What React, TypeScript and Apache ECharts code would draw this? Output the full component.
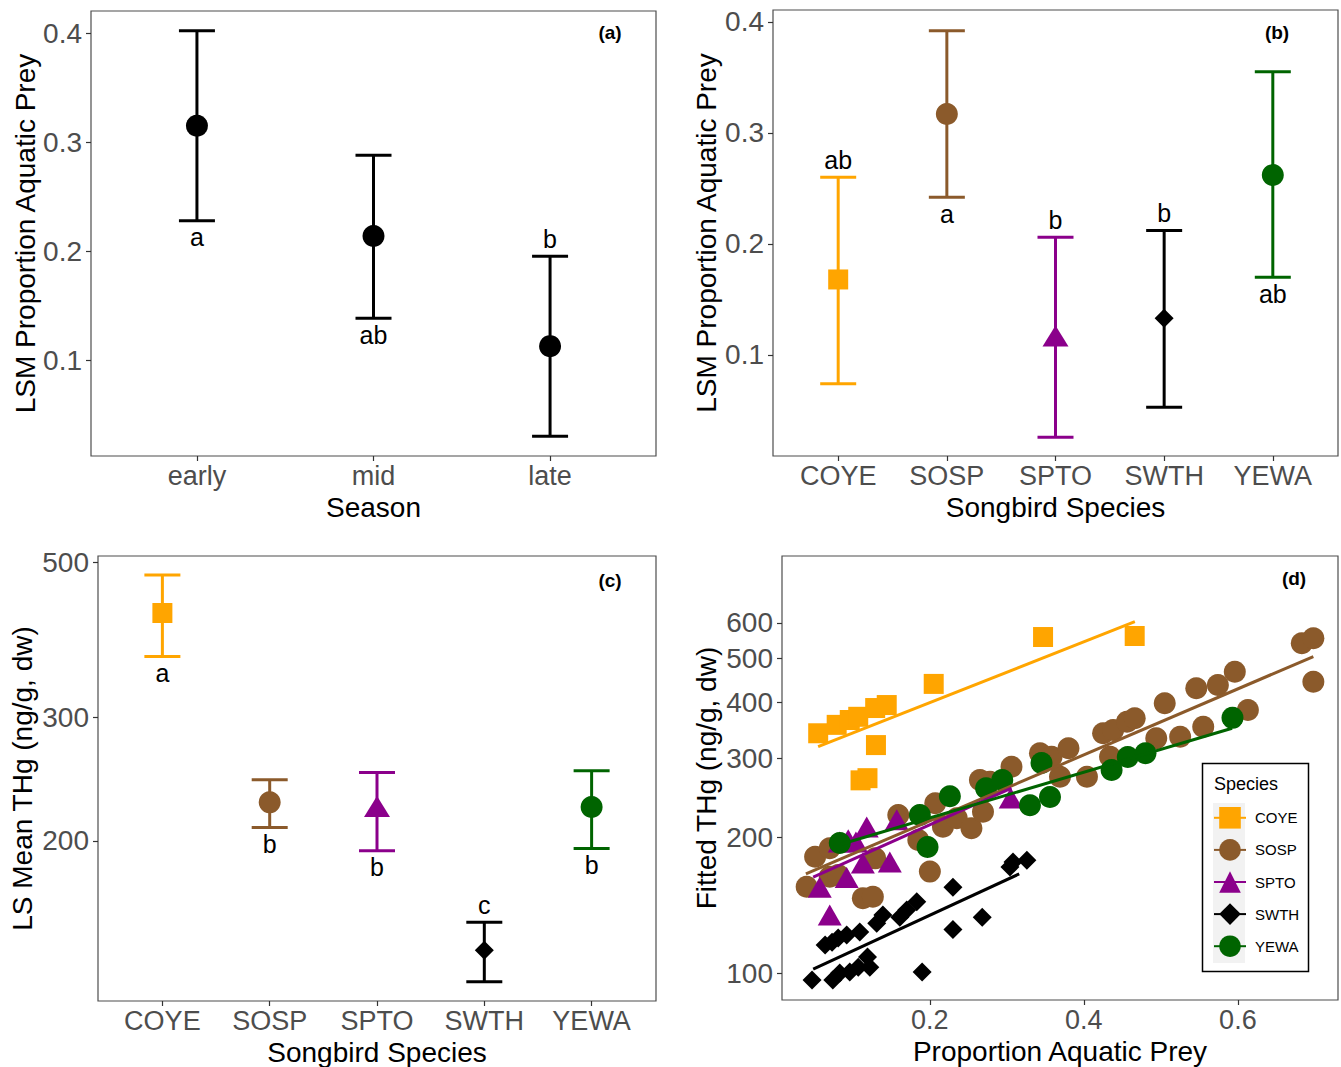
import React, { useEffect, useRef } from "react";
import * as echarts from "echarts";

const FONT = "'Liberation Sans', Arial, Helvetica, sans-serif";

// ---------- Panel (a): season ----------
const seasons = ["early", "mid", "late"];
const seasonMean = [0.315, 0.214, 0.113];
const seasonLower = [0.228, 0.1385, 0.0303];
const seasonUpper = [0.402, 0.288, 0.1954];
const seasonLetters = ["a", "ab", "b"];
const seasonLetterSide = ["below", "below", "above"];

// ---------- shared species ----------
const species = ["COYE", "SOSP", "SPTO", "SWTH", "YEWA"];
const speciesColors = ["#FFA500", "#8B5A2B", "#8B008B", "#000000", "#006400"];
const speciesSymbols = ["rect", "circle", "triangle", "diamond", "circle"];

// ---------- Panel (b): proportion aquatic prey by species ----------
const preyMean = [0.168, 0.317, 0.117, 0.133, 0.262];
const preyLower = [0.074, 0.242, 0.026, 0.053, 0.17];
const preyUpper = [0.26, 0.392, 0.206, 0.212, 0.355];
const preyLetters = ["ab", "a", "b", "b", "ab"];
const preyLetterSide = ["above", "below", "above", "above", "below"];

// ---------- Panel (c): LS mean THg by species ----------
const thgMean = [423.5, 227, 224, 139.5, 223.5];
const thgLower = [367, 209, 193.5, 125.7, 195];
const thgUpper = [480, 244.5, 250.5, 153, 252];
const thgLetters = ["a", "b", "b", "c", "b"];
const thgLetterSide = ["below", "below", "below", "above", "below"];

// ---------- Panel (d): fitted THg vs proportion aquatic prey ----------
const coyeX = [0.055, 0.079, 0.096, 0.107, 0.129, 0.144, 0.205, 0.13, 0.11, 0.119, 0.347, 0.466];
const coyeY = [341, 356, 365, 371, 388, 394, 439, 321, 268, 271, 558, 561];

const sospX = [0.04, 0.051, 0.07, 0.07, 0.081, 0.129, 0.113, 0.126, 0.159, 0.185, 0.2, 0.207, 0.217, 0.235, 0.254, 0.269, 0.265, 0.278, 0.306, 0.343, 0.358, 0.38, 0.369, 0.404, 0.425, 0.438, 0.434, 0.456, 0.466, 0.494, 0.505, 0.525, 0.546, 0.555, 0.574, 0.596, 0.613, 0.683, 0.698, 0.698];
const sospY = [155.5, 181.3, 189.3, 163.7, 165.1, 179.8, 146.6, 147.8, 224.4, 197.5, 168, 238.4, 211.4, 220.7, 209.7, 228.3, 268.5, 266.1, 287.3, 307.7, 302.4, 315.8, 273.1, 273.1, 340.9, 346.7, 302.4, 361.7, 368.1, 332.4, 397.5, 335.1, 429.2, 352.6, 436.5, 467.3, 384.1, 540.3, 554.3, 444];

const sptoX = [0.057, 0.07, 0.083, 0.094, 0.104, 0.118, 0.092, 0.113, 0.148, 0.157, 0.305];
const sptoY = [155, 134.6, 195.5, 197.7, 195.5, 211, 163, 175.5, 176.5, 219, 245];

const swthX = [0.047, 0.064, 0.073, 0.081, 0.092, 0.109, 0.074, 0.083, 0.096, 0.107, 0.119, 0.122, 0.131, 0.139, 0.161, 0.17, 0.183, 0.19, 0.23, 0.23, 0.268, 0.308, 0.326, 0.304];
const swthY = [96.5, 115.4, 117, 119.6, 121.5, 123.3, 96.5, 100, 100.5, 103, 108.5, 103, 129, 134.5, 133, 138, 144, 100.5, 155, 125, 133, 176.5, 178, 172];

const yewaX = [0.083, 0.187, 0.197, 0.226, 0.273, 0.294, 0.33, 0.356, 0.345, 0.436, 0.457, 0.48, 0.593];
const yewaY = [194.5, 224.5, 190.5, 247, 257.5, 268.5, 236, 246, 293, 282.5, 302, 308, 369];

const pointsX = [coyeX, sospX, sptoX, swthX, yewaX];
const pointsY = [coyeY, sospY, sptoY, swthY, yewaY];

// fitted regression lines (start / end)
const fitStartX = [0.0549, 0.039, 0.0485, 0.0485, 0.0845];
const fitStartY = [318.5, 166, 163.4, 102, 193.2];
const fitEndX = [0.4662, 0.698, 0.306, 0.316, 0.5925];
const fitEndY = [603.6, 505, 257.6, 166, 349.9];

// ---------- tick values ----------
const propTicks = [0.1, 0.2, 0.3, 0.4];
const thgTicks = [200, 300, 500];
const fittedTicks = [100, 200, 300, 400, 500, 600];
const preyTicks = [0.2, 0.4, 0.6];
const seasonTicks = [1, 2, 3];
const speciesTicks = [1, 2, 3, 4, 5];

function symbolSize(sym: string, big = true): any {
  if (sym === "rect") return 20;
  if (sym === "circle") return 22;
  if (sym === "triangle") return big ? [26, 21] : [24, 21];
  return 19;
}

function makeErrorRender(colors: string[], letters: string[], sides: string[]) {
  return (params: any, api: any) => {
    const i = params.dataIndex;
    const x = api.value(0);
    const lo = api.coord([x, api.value(1)]);
    const hi = api.coord([x, api.value(2)]);
    const c = colors[i];
    const half = 18;
    const ls = { stroke: c, lineWidth: 3 };
    const above = sides[i] === "above";
    return {
      type: "group",
      children: [
        { type: "line", shape: { x1: lo[0], y1: lo[1], x2: hi[0], y2: hi[1] }, style: ls },
        { type: "line", shape: { x1: lo[0] - half, y1: lo[1], x2: lo[0] + half, y2: lo[1] }, style: ls },
        { type: "line", shape: { x1: hi[0] - half, y1: hi[1], x2: hi[0] + half, y2: hi[1] }, style: ls },
        {
          type: "text",
          x: lo[0],
          y: above ? hi[1] - 5 : lo[1] + 4,
          style: {
            text: letters[i],
            fill: "#000",
            fontSize: 25,
            fontFamily: FONT,
            align: "center",
            verticalAlign: above ? "bottom" : "top",
          },
        },
      ],
    };
  };
}

const tickStyle = { show: true, inside: false, length: 5, lineStyle: { color: "#333333", width: 1.2 } };
const nameBase = { fontSize: 28, color: "#000", fontFamily: FONT };

function xAxisDef(gridIndex: number, type: string, min: number, max: number, ticks: number[], fmt: (v: number) => string, name: string) {
  return {
    type,
    gridIndex,
    min,
    max,
    name,
    nameLocation: "middle",
    nameGap: 37,
    nameTextStyle: nameBase,
    axisLine: { show: false },
    splitLine: { show: false },
    axisTick: { ...tickStyle, customValues: ticks },
    axisLabel: { fontSize: 27, color: "#4D4D4D", fontFamily: FONT, margin: 6, customValues: ticks, formatter: fmt },
  };
}

function yAxisDef(gridIndex: number, type: string, min: number, max: number, ticks: number[], fmt: (v: number) => string, name: string, gap: number) {
  return {
    type,
    gridIndex,
    min,
    max,
    name,
    nameLocation: "middle",
    nameGap: gap,
    nameTextStyle: nameBase,
    axisLine: { show: false },
    splitLine: { show: false },
    axisTick: { ...tickStyle, customValues: ticks },
    axisLabel: { fontSize: 28, color: "#4D4D4D", fontFamily: FONT, margin: 9, customValues: ticks, formatter: fmt },
  };
}

const fmt1 = (v: number) => Number(v).toFixed(1);
const fmtInt = (v: number) => String(Math.round(v));
const fmtSeason = (v: number) => seasons[Math.round(v) - 1] ?? "";
const fmtSpecies = (v: number) => species[Math.round(v) - 1] ?? "";

export default function App() {
  const ref = useRef<HTMLDivElement>(null);
  useEffect(() => {
    if (!ref.current) return;
    const chart = echarts.init(ref.current, undefined, { renderer: "svg" });
    const gridStyle = { show: true, borderColor: "#4D4D4D", borderWidth: 1.2, backgroundColor: "rgba(0,0,0,0)" };

    const black3 = seasons.map(() => "#000000");

    const series: any[] = [];
    // (a)
    series.push({
      type: "custom",
      xAxisIndex: 0,
      yAxisIndex: 0,
      renderItem: makeErrorRender(black3, seasonLetters, seasonLetterSide),
      encode: { x: 0, y: [1, 2] },
      data: seasons.map((_, i) => [i + 1, seasonLower[i], seasonUpper[i]]),
      z: 2,
    });
    series.push({
      type: "scatter",
      name: "a-means",
      xAxisIndex: 0,
      yAxisIndex: 0,
      symbol: "circle",
      symbolSize: 22,
      itemStyle: { color: "#000", opacity: 1 },
      data: seasons.map((_, i) => [i + 1, seasonMean[i]]),
      z: 3,
    });
    // (b)
    series.push({
      type: "custom",
      xAxisIndex: 1,
      yAxisIndex: 1,
      renderItem: makeErrorRender(speciesColors, preyLetters, preyLetterSide),
      encode: { x: 0, y: [1, 2] },
      data: species.map((_, i) => [i + 1, preyLower[i], preyUpper[i]]),
      z: 2,
    });
    series.push({
      type: "scatter",
      name: "b-means",
      xAxisIndex: 1,
      yAxisIndex: 1,
      data: species.map((_, i) => ({
        value: [i + 1, preyMean[i]],
        symbol: speciesSymbols[i],
        symbolSize: symbolSize(speciesSymbols[i]),
        itemStyle: { color: speciesColors[i], opacity: 1 },
      })),
      z: 3,
    });
    // (c)
    series.push({
      type: "custom",
      xAxisIndex: 2,
      yAxisIndex: 2,
      renderItem: makeErrorRender(speciesColors, thgLetters, thgLetterSide),
      encode: { x: 0, y: [1, 2] },
      data: species.map((_, i) => [i + 1, thgLower[i], thgUpper[i]]),
      z: 2,
    });
    series.push({
      type: "scatter",
      name: "c-means",
      xAxisIndex: 2,
      yAxisIndex: 2,
      data: species.map((_, i) => ({
        value: [i + 1, thgMean[i]],
        symbol: speciesSymbols[i],
        symbolSize: symbolSize(speciesSymbols[i]),
        itemStyle: { color: speciesColors[i], opacity: 1 },
      })),
      z: 3,
    });
    // (d) fitted lines first (legend uses them for the icon)
    species.forEach((s, i) => {
      series.push({
        type: "line",
        name: s,
        xAxisIndex: 3,
        yAxisIndex: 3,
        symbol: speciesSymbols[i],
        showSymbol: false,
        lineStyle: { color: speciesColors[i], width: 3 },
        itemStyle: { color: speciesColors[i] },
        data: [
          [fitStartX[i], fitStartY[i]],
          [fitEndX[i], fitEndY[i]],
        ],
        z: 4,
      });
    });
    species.forEach((s, i) => {
      series.push({
        type: "scatter",
        name: s,
        xAxisIndex: 3,
        yAxisIndex: 3,
        symbol: speciesSymbols[i],
        symbolSize: symbolSize(speciesSymbols[i], false),
        itemStyle: { color: speciesColors[i], opacity: 1 },
        data: pointsX[i].map((x, j) => [x, pointsY[i][j]]),
        z: 2,
      });
    });

    const option: any = {
      animation: false,
      backgroundColor: "#ffffff",
      textStyle: { fontFamily: FONT },
      grid: [
        { left: 91, top: 11, width: 565, height: 445, ...gridStyle },
        { left: 773, top: 10, width: 565, height: 446, ...gridStyle },
        { left: 98, top: 556, width: 558, height: 445, ...gridStyle },
        { left: 782, top: 556, width: 556, height: 444, ...gridStyle },
      ],
      xAxis: [
        xAxisDef(0, "value", 0.4, 3.6, seasonTicks, fmtSeason, "Season"),
        xAxisDef(1, "value", 0.4, 5.6, speciesTicks, fmtSpecies, "Songbird Species"),
        xAxisDef(2, "value", 0.4, 5.6, speciesTicks, fmtSpecies, "Songbird Species"),
        xAxisDef(3, "value", 0.008, 0.73, preyTicks, fmt1, "Proportion Aquatic Prey"),
      ],
      yAxis: [
        yAxisDef(0, "value", 0.0123, 0.4202, propTicks, fmt1, "LSM Proportion Aquatic Prey", 52),
        yAxisDef(1, "value", 0.009, 0.4107, propTicks, fmt1, "LSM Proportion Aquatic Prey", 53),
        { ...yAxisDef(2, "log", 118, 511, thgTicks, fmtInt, "LS Mean THg (ng/g, dw)", 62), logBase: 10 },
        { ...yAxisDef(3, "log", 87.1, 844.7, fittedTicks, fmtInt, "Fitted THg (ng/g, dw)", 62), logBase: 10 },
      ],
      legend: {
        data: species,
        orient: "vertical",
        left: 1213,
        top: 807,
        padding: 0,
        itemWidth: 32,
        itemHeight: 27,
        itemGap: 10.5,
        textStyle: { fontSize: 15, color: "#000", fontFamily: FONT, padding: [0, 0, 0, 4] },
        selectedMode: false,
      },
      graphic: [
        { type: "rect", left: 1213, top: 803, shape: { width: 32, height: 160 }, style: { fill: "#F2F2F2" }, z: 0 },
        { type: "rect", shape: { x: 1202.5, y: 763.5, width: 106, height: 208 }, style: { fill: "none", stroke: "#000", lineWidth: 1.5 }, z: 0 },
        { type: "text", x: 1214, y: 784, style: { text: "Species", fontSize: 18, fill: "#000", fontFamily: FONT, verticalAlign: "middle" } },
        { type: "text", x: 610, y: 32, style: { text: "(a)", fontSize: 19, fontWeight: "bold", fill: "#000", fontFamily: FONT, align: "center", verticalAlign: "middle" } },
        { type: "text", x: 1277, y: 32, style: { text: "(b)", fontSize: 19, fontWeight: "bold", fill: "#000", fontFamily: FONT, align: "center", verticalAlign: "middle" } },
        { type: "text", x: 610, y: 580, style: { text: "(c)", fontSize: 19, fontWeight: "bold", fill: "#000", fontFamily: FONT, align: "center", verticalAlign: "middle" } },
        { type: "text", x: 1294, y: 578, style: { text: "(d)", fontSize: 19, fontWeight: "bold", fill: "#000", fontFamily: FONT, align: "center", verticalAlign: "middle" } },
      ],
      series,
    };
    chart.setOption(option);
    return () => chart.dispose();
  }, []);
  return (
    <div
      ref={ref}
      style={{ position: "absolute", left: 0, top: 0, width: 1341, height: 1067, background: "#fff" }}
    />
  );
}
